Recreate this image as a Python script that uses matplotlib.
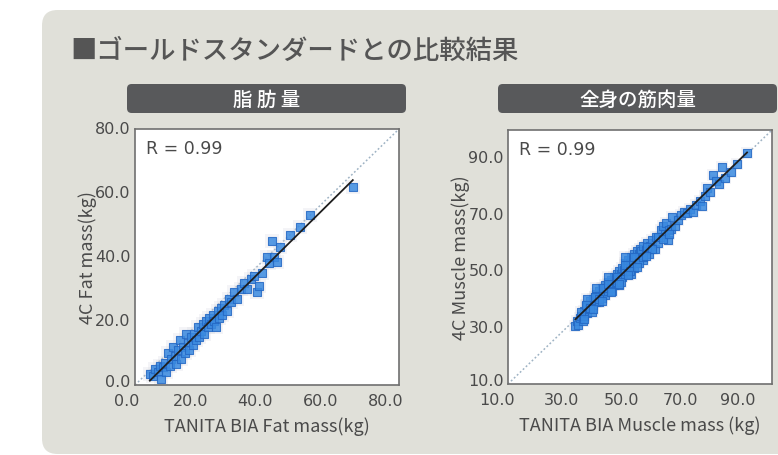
import numpy as np
import matplotlib
matplotlib.use("Agg")
import matplotlib.pyplot as plt
from matplotlib.patches import FancyBboxPatch
from matplotlib.transforms import ScaledTranslation

plt.rcParams['font.family'] = ['Noto Sans CJK JP', 'DejaVu Sans']

# ---- data ----
title = "■ゴールドスタンダードとの比較結果"
panel_titles = ["脂 肪 量", "全身の筋肉量"]
r_text = "R = 0.99"

fat_bia = [4.5, 5.5, 6, 7, 7.5, 8, 8.5, 9, 9.5, 10, 10.5, 11, 11.5, 12, 12.5, 13,
           13.5, 14, 14.5, 15, 15.5, 16, 16.5, 17, 17.5, 18, 18.5, 19, 19.5, 20,
           20.5, 21, 21.5, 22, 22.5, 23, 23.5, 24, 24.5, 25, 25.5, 26, 26.5, 27,
           28, 28.5, 29, 30, 31, 32, 33, 34, 35, 36, 37, 37.5, 38.5, 40, 40.5,
           42, 43, 41.5, 44, 47, 50, 53, 66]
fat_4c = [3.5, 2.8, 5, 4, 6, 2, 5.5, 7, 4, 10, 6, 8, 12, 9, 6.5, 11,
          14, 8, 12, 10, 16, 13, 11, 15, 12.5, 16, 14, 18, 15, 17,
          19, 16, 20, 18, 21, 19, 22, 20, 18, 23, 21, 24, 22, 25,
          23, 27, 26, 29, 27, 30, 32, 30, 33, 34, 29, 31, 35, 40, 38,
          40, 38.5, 45, 43, 47, 49.5, 53, 62]

mus_bia = [33, 33.5, 34, 34.5, 35, 35.5, 36, 36, 36.5, 37, 37, 37.5, 38, 38, 38.5,
           39, 39, 39.5, 40, 40, 40.5, 41, 41, 41.5, 42, 42, 42.5, 43, 43, 43.5,
           44, 44, 44.5, 45, 45, 45.5, 46, 46, 46.5, 47, 47, 47.5, 48, 48, 48.5,
           49, 49, 49.5, 50, 50, 50.5, 51, 51, 51.5, 52, 52, 52.5, 53, 53, 53.5,
           54, 54, 54.5, 55, 55, 55.5, 56, 56, 57, 57.5, 58, 58.5, 59, 60, 60.5,
           61, 62, 62.5, 63, 63.5, 64, 64.5, 65, 65.5, 66, 67, 68, 69, 70, 71,
           72, 73, 74, 75.5, 76, 77, 78, 79, 80, 81, 82, 83, 84, 86, 88, 91.5,
           37, 40, 44, 50, 48, 52,
           35, 36.5, 38, 39.5, 41, 42.5, 44, 45.5, 47, 48.5, 50, 51.5, 53, 54.5,
           56, 57.5, 59, 61, 63, 65, 36, 39, 42, 45, 48, 51, 54, 57]
mus_4c = [30.5, 32.5, 31, 33.5, 34, 32.5, 36, 34, 37.5, 35, 38, 36.5, 39.5, 37, 35.5,
          40, 38, 41, 39, 42, 40.5, 43, 39, 41.5, 44, 40.5, 42.5, 45, 41.5, 44,
          46, 43, 45, 47, 44, 46, 48, 45, 47, 49, 46, 48, 50, 47, 49,
          51, 48, 50.5, 53, 50, 52, 54, 51, 53, 55, 52, 54, 56, 51, 55,
          57, 53, 56, 58, 55, 57, 59, 54, 57.5, 60, 56, 59, 61, 58, 62,
          60, 64.5, 62, 66, 63, 67, 61, 64.5, 65, 69, 66, 68, 70, 71, 70.5,
          72, 71, 73.5, 75, 73, 76.5, 79.5, 78, 84, 82, 81, 87, 83, 85, 88, 92,
          40, 44, 48, 55, 45, 49,
          35.5, 38, 37, 41, 40, 44, 45.5, 43, 48, 46, 52, 50, 55, 53,
          55, 58.5, 58, 62, 61.5, 63, 33, 36.5, 39.5, 42.5, 45.5, 48.5, 51.5, 55.5]

fat_ticks = [0, 20, 40, 60, 80]
mus_ticks = [10, 30, 50, 70, 90]

panels = [
    dict(x=fat_bia, y=fat_4c, lim=(0, 80), ticks=fat_ticks,
         xlabel="TANITA BIA Fat mass(kg)", ylabel="4C Fat mass(kg)",
         rect_px=(135, 130, 399, 386), head_px=(127, 85, 406, 114), ms=36,
         xshift=[-8, -10, -12, -12, -13]),
    dict(x=mus_bia, y=mus_4c, lim=(10, 100), ticks=mus_ticks,
         xlabel="TANITA BIA Muscle mass (kg)", ylabel="4C Muscle mass(kg)",
         rect_px=(508, 131, 772, 385), head_px=(498, 85, 777, 114), ms=26,
         xshift=[-11, -5, -4, -4, -5]),
]

W, H = 778, 456
fig = plt.figure(figsize=(W / 100, H / 100), dpi=100)
fig.patch.set_facecolor("white")

def fx(px):
    return px / W

def fy(py):
    return 1 - py / H

# background panel
bg = FancyBboxPatch((fx(42), fy(455)), fx(800 - 42), (455 - 11) / H,
                    boxstyle="round,pad=0,rounding_size=0.02",
                    transform=fig.transFigure, facecolor="#e0e0d9",
                    edgecolor="none", mutation_aspect=W / H, zorder=-2)
fig.patches.append(bg)

fig.text(fx(70), fy(51), title, fontsize=19, color="#555555",
         va="center", ha="left", fontweight="medium")

text_col = "#4a4a4a"
num_font = "DejaVu Sans"
for p, name in zip(panels, panel_titles):
    x0, y0, x1, y1 = p["head_px"]
    hb = FancyBboxPatch((fx(x0), fy(y1)), fx(x1 - x0), (y1 - y0) / H,
                        boxstyle="round,pad=0,rounding_size=0.006",
                        transform=fig.transFigure, facecolor="#58595b",
                        edgecolor="none", mutation_aspect=W / H, zorder=-1)
    fig.patches.append(hb)
    fig.text(fx((x0 + x1) / 2), fy((y0 + y1) / 2 + 1), name, fontsize=14,
             color="white", ha="center", va="center", fontweight="medium")

    l, t, r, b = p["rect_px"]
    ax = fig.add_axes([fx(l), fy(b), fx(r - l), (b - t) / H])
    ax.set_facecolor("white")
    lo, hi = p["lim"]
    ax.set_xlim(lo, hi)
    ax.set_ylim(lo, hi)

    # identity line
    ax.plot([lo, hi], [lo, hi], linestyle=(0, (1.2, 1.5)), color="#9fb3c4",
            linewidth=1.1, zorder=1)

    xs = np.array(p["x"], dtype=float)
    ys = np.array(p["y"], dtype=float)
    # soft halo around the points
    ax.scatter(xs, ys, s=p["ms"] * 3.0, marker="s", color="#c8ccd8",
               alpha=0.2, linewidths=0, zorder=2)
    ax.scatter(xs, ys, s=p["ms"], marker="s", color="#3a8ae0",
               edgecolors="#2468c4", linewidths=0.8, alpha=0.85, zorder=3)

    # least-squares fit
    k, c = np.polyfit(xs, ys, 1)
    xx = np.array([xs.min(), xs.max()])
    ax.plot(xx, k * xx + c, color="#1e1e1e", linewidth=1.3, zorder=4)

    ax.set_xticks(p["ticks"])
    ax.set_yticks(p["ticks"])
    ax.set_xticklabels([f"{v:.1f}" for v in p["ticks"]], family=num_font)
    ax.set_yticklabels([f"{v:.1f}" for v in p["ticks"]], family=num_font)
    ax.tick_params(length=0, labelsize=11.5, labelcolor=text_col)
    ax.tick_params(axis="x", pad=6)
    ax.tick_params(axis="y", pad=3)
    for lab, dx in zip(ax.get_xticklabels(), p["xshift"]):
        lab.set_transform(lab.get_transform() +
                          ScaledTranslation(dx / 100, 0, fig.dpi_scale_trans))
    for i, lab in enumerate(ax.get_yticklabels()):
        dy = 5 if i == 0 else 2
        lab.set_transform(lab.get_transform() +
                          ScaledTranslation(0, dy / 100, fig.dpi_scale_trans))
    for s in ax.spines.values():
        s.set_color("#707070")
        s.set_linewidth(1.2)
    ax.set_xlabel(p["xlabel"], fontsize=13, color=text_col, labelpad=6)
    ax.set_ylabel(p["ylabel"], fontsize=13, color=text_col, labelpad=-1)
    ax.text(11 / (r - l), 1 - 10 / (b - t), r_text, transform=ax.transAxes,
            fontsize=12.5, family=num_font, color=text_col, ha="left", va="top")

fig.savefig("out.png", dpi=100, facecolor=fig.get_facecolor())
